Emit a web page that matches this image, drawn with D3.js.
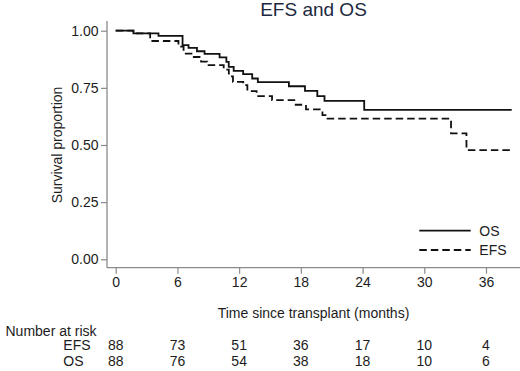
<!DOCTYPE html>
<html>
<head>
<meta charset="utf-8">
<script src="https://cdn.jsdelivr.net/npm/d3@7"></script>
<style>
  body { margin: 0; background: #fff; }
  svg text { font-family: "Liberation Sans", Arial, sans-serif; }
</style>
</head>
<body>
<svg id="km" width="520" height="371"></svg>
<script>
// step times (months) and survival proportion after each step
const osTimes = [0, 1.72, 4.16, 6.5, 7.08, 7.9, 8.64, 10.1, 10.76, 10.99, 11.47, 12.39, 13.27, 13.82, 16.84, 18.4, 19.6, 20.3, 24.16, 38.5];
const osSurv = [1.0, 0.988, 0.977, 0.937, 0.925, 0.91, 0.899, 0.883, 0.864, 0.842, 0.824, 0.81, 0.791, 0.775, 0.757, 0.737, 0.714, 0.693, 0.654, 0.654];
const efsTimes = [0, 1.72, 3.35, 6.1, 6.6, 7.5, 8.3, 8.9, 10.5, 11.0, 11.4, 12.4, 12.8, 13.7, 15.2, 17.5, 18.5, 20.1, 20.6, 32.6, 34.1, 38.5];
const efsSurv = [1.0, 0.988, 0.955, 0.93, 0.9, 0.885, 0.865, 0.849, 0.83, 0.8, 0.776, 0.762, 0.736, 0.714, 0.696, 0.676, 0.656, 0.631, 0.615, 0.551, 0.478, 0.478];

const xTicks = [0, 6, 12, 18, 24, 30, 36];
const yTicks = [0, 0.25, 0.5, 0.75, 1];
const riskEFS = [88, 73, 51, 36, 17, 10, 4];
const riskOS = [88, 76, 54, 38, 18, 10, 6];

const axisColor = '#8a8a8a',
  textColor = '#1c1c1c',
  fontSize = 14;

const $svg = d3.select('#km');
const xScale = d3.scaleLinear().domain([0, 36]).range([115.7, 486]),
  yScale = d3.scaleLinear().domain([0, 1]).range([259.3, 30.7]);
const plot = { left: 107, right: 520, top: 21, bottom: 267.7 };

// title
$svg.append('text')
  .text('EFS and OS')
  .attr('x', (plot.left + plot.right) / 2)
  .attr('y', 15.5)
  .attr('text-anchor', 'middle')
  .attr('font-size', 19)
  .attr('fill', '#1d2940');

// y axis
const $yAxis = $svg.append('g')
  .attr('transform', 'translate(' + plot.left + ',0)')
  .call(d3.axisLeft(yScale).tickValues(yTicks).tickFormat(d3.format('.2f')).tickSize(6).tickSizeOuter(0));
$yAxis.select('.domain').remove();
$yAxis.append('line')
  .attr('x1', 0).attr('x2', 0)
  .attr('y1', plot.top).attr('y2', plot.bottom)
  .attr('stroke', axisColor).attr('stroke-width', 1.3);

// x axis
const $xAxis = $svg.append('g')
  .attr('transform', 'translate(0,' + plot.bottom + ')')
  .call(d3.axisBottom(xScale).tickValues(xTicks).tickSize(6).tickSizeOuter(0));
$xAxis.select('.domain').remove();
$xAxis.append('line')
  .attr('x1', plot.left).attr('x2', plot.right)
  .attr('y1', 0).attr('y2', 0)
  .attr('stroke', axisColor).attr('stroke-width', 1.3);

$svg.selectAll('.tick line').attr('stroke', axisColor).attr('stroke-width', 1.2);
$svg.selectAll('.tick text')
  .attr('font-size', fontSize)
  .attr('fill', textColor)
  .attr('font-family', '"Liberation Sans", Arial, sans-serif');
$yAxis.selectAll('.tick text').attr('x', -8.5);
$xAxis.selectAll('.tick text').attr('y', 9);

$svg.append('text')
  .text('Survival proportion')
  .attr('text-anchor', 'middle')
  .attr('font-size', fontSize)
  .attr('fill', textColor)
  .attr('transform', 'translate(61.5,' + yScale(0.5) + ') rotate(-90)');

$svg.append('text')
  .text('Time since transplant (months)')
  .attr('text-anchor', 'middle')
  .attr('font-size', fontSize)
  .attr('fill', textColor)
  .attr('x', (plot.left + plot.right) / 2)
  .attr('y', 317.5);

// curves
const line = d3.line()
  .x((d) => xScale(d[0]))
  .y((d) => yScale(d[1]))
  .curve(d3.curveStepAfter);

$svg.append('path')
  .datum(d3.zip(osTimes, osSurv))
  .attr('d', line)
  .attr('fill', 'none')
  .attr('stroke', '#111')
  .attr('stroke-width', 1.8);

$svg.append('path')
  .datum(d3.zip(efsTimes, efsSurv))
  .attr('d', line)
  .attr('fill', 'none')
  .attr('stroke', '#111')
  .attr('stroke-width', 1.8)
  .attr('stroke-dasharray', '7.5,4');

// legend
const legend = [['OS', null, 230.7], ['EFS', '7.5,4', 250]];
legend.forEach((l) => {
  $svg.append('line')
    .attr('x1', 419.3).attr('x2', 470.7)
    .attr('y1', l[2]).attr('y2', l[2])
    .attr('stroke', '#111')
    .attr('stroke-width', 1.8)
    .attr('stroke-dasharray', l[1]);
  $svg.append('text')
    .text(l[0])
    .attr('x', 479.3)
    .attr('y', l[2] + 5)
    .attr('font-size', fontSize)
    .attr('fill', textColor);
});

// number at risk table
$svg.append('text')
  .text('Number at risk')
  .attr('x', 5.5)
  .attr('y', 335.5)
  .attr('font-size', fontSize)
  .attr('fill', textColor);

[['EFS', riskEFS, 350.2], ['OS', riskOS, 365.5]].forEach((row) => {
  $svg.append('text')
    .text(row[0])
    .attr('x', 63.3)
    .attr('y', row[2])
    .attr('font-size', fontSize)
    .attr('fill', textColor);
  $svg.append('g')
    .selectAll('text')
    .data(row[1])
    .enter()
    .append('text')
    .text((d) => d)
    .attr('x', (d, i) => xScale(xTicks[i]))
    .attr('y', row[2])
    .attr('text-anchor', 'middle')
    .attr('font-size', fontSize)
    .attr('fill', textColor);
});
</script>
</body>
</html>
